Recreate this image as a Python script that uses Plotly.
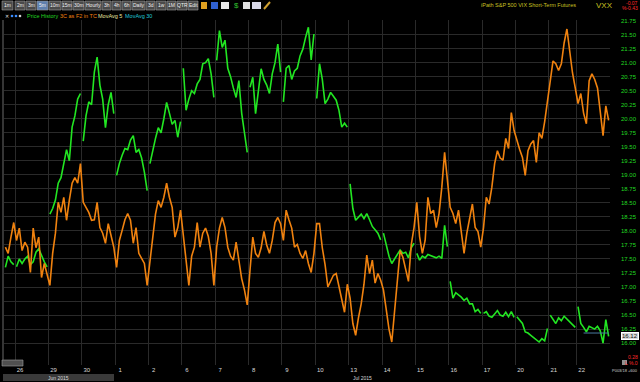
import plotly.graph_objects as go

# ---------------- data ----------------
day_labels = ["", "26", "29", "30", "1", "2", "6", "7", "8", "9", "10",
              "13", "14", "15", "16", "17", "20", "21", "22"]
month_labels = ["Jun 2015", "Jul 2015"]

# VXX price history (green), one list per session
price_days = [
    [17.35, 17.55, 17.45, 17.40],
    [17.36, 17.50, 17.42, 17.50, 17.55, 17.40, 17.45, 17.62, 17.68, 17.55, 17.45, 17.36],
    [18.30, 18.40, 18.55, 18.85, 18.95, 19.20, 19.45, 19.25, 19.85, 20.05, 20.35, 20.45],
    [19.60, 20.05, 20.30, 20.25, 20.83, 21.10, 20.60, 20.35, 19.84, 20.25, 20.47, 20.09],
    [18.99, 19.20, 19.35, 19.47, 19.45, 19.62, 19.70, 19.40, 19.45, 19.30, 19.05, 18.72],
    [19.20, 19.45, 19.65, 19.84, 19.75, 20.00, 20.29, 20.10, 19.90, 19.97, 19.67, 19.95],
    [20.90, 20.15, 20.35, 20.50, 20.45, 20.62, 20.70, 20.98, 21.00, 21.07, 20.80, 20.38],
    [21.04, 21.57, 21.27, 21.40, 20.90, 20.75, 20.55, 20.38, 20.68, 20.10, 19.75, 19.40],
    [20.56, 20.74, 20.09, 20.45, 20.89, 20.70, 20.60, 20.45, 20.80, 21.00, 21.33, 20.83],
    [20.30, 20.90, 20.95, 20.70, 20.85, 20.90, 21.12, 21.24, 21.45, 21.63, 21.05, 21.51],
    [20.36, 20.98, 20.70, 20.27, 20.35, 20.47, 20.40, 20.33, 20.15, 19.85, 19.92, 19.85],
    [18.84, 18.40, 18.19, 18.25, 18.30, 18.22, 18.31, 18.20, 18.08, 18.02, 17.96, 17.84],
    [17.96, 17.73, 17.55, 17.42, 17.50, 17.60, 17.66, 17.60, 17.62, 17.52, 17.70, 17.78],
    [17.60, 17.48, 17.55, 17.52, 17.58, 17.56, 17.55, 17.52, 17.55, 17.51, 18.10, 17.72],
    [17.10, 16.80, 16.90, 16.86, 16.82, 16.76, 16.80, 16.70, 16.70, 16.56, 16.60, 16.53],
    [16.53, 16.56, 16.48, 16.46, 16.52, 16.58, 16.50, 16.48, 16.55, 16.47, 16.56, 16.46],
    [16.47, 16.40, 16.35, 16.20, 16.18, 16.14, 16.10, 16.05, 16.02, 16.08, 16.04, 16.26],
    [16.50, 16.42, 16.35, 16.45, 16.40, 16.48, 16.43, 16.38, 16.34, 16.28],
    [16.65, 16.35, 16.28, 16.20, 16.30, 16.28, 16.25, 16.30, 16.22, 16.00, 16.42, 16.12],
]

# 3C as F2 in TC (orange), same sessions, plotted on its own hidden scale
c3_days = [
    [17.71, 17.60, 17.89, 18.15],
    [17.83, 18.05, 17.65, 17.80, 17.71, 17.26, 18.05, 17.70, 17.89, 17.17, 17.42, 17.24],
    [17.03, 17.60, 17.96, 18.51, 18.33, 18.60, 18.19, 18.55, 18.85, 18.95, 18.85, 19.20],
    [18.51, 18.42, 18.33, 18.19, 18.20, 18.51, 18.06, 17.96, 17.78, 18.13, 17.90, 17.71],
    [17.35, 17.83, 18.01, 18.20, 18.31, 18.19, 17.78, 18.06, 17.60, 17.50, 17.42, 17.03],
    [17.48, 17.96, 18.30, 18.54, 18.42, 18.60, 18.85, 18.60, 18.42, 17.89, 18.06, 18.37],
    [17.90, 17.40, 17.03, 17.55, 17.71, 18.15, 17.71, 17.96, 18.05, 17.90, 17.60, 17.03],
    [17.71, 18.05, 18.24, 18.06, 17.71, 17.55, 17.48, 17.80, 17.45, 17.15, 16.95, 16.68],
    [17.30, 17.89, 17.60, 17.53, 17.70, 17.99, 17.75, 17.60, 17.83, 18.15, 18.24, 18.13],
    [17.83, 18.37, 18.20, 18.05, 17.71, 17.76, 17.60, 17.51, 17.65, 17.42, 17.26, 17.60],
    [18.13, 18.13, 17.70, 17.40, 17.00, 17.10, 17.21, 17.24, 17.00, 16.75, 16.55, 17.05],
    [16.80, 16.35, 16.14, 16.45, 16.70, 17.05, 17.57, 17.24, 17.48, 17.07, 17.24, 17.12],
    [16.95, 16.60, 16.25, 16.02, 16.53, 17.17, 17.65, 17.53, 17.30, 17.10, 17.75, 18.06],
    [18.51, 17.90, 17.60, 17.83, 18.60, 18.31, 18.37, 18.06, 18.31, 18.78, 19.40, 18.95],
    [18.42, 18.31, 18.13, 18.37, 17.95, 17.60, 17.96, 18.19, 18.48, 18.06, 17.99, 17.71],
    [18.06, 18.60, 18.48, 18.78, 19.20, 19.43, 19.30, 19.26, 19.65, 19.47, 20.11, 19.79],
    [19.61, 19.45, 19.31, 18.99, 19.43, 19.55, 19.61, 19.22, 19.75, 19.65, 19.95, 20.32],
    [20.70, 21.03, 20.98, 20.86, 20.98, 21.35, 21.60, 21.21, 20.82, 20.55],
    [20.27, 20.45, 20.10, 19.91, 20.68, 20.80, 20.70, 20.55, 20.15, 19.70, 20.23, 19.97],
]

price_ticks = [16.00, 16.25, 16.50, 16.75, 17.00, 17.25, 17.50, 17.75, 18.00, 18.25,
               18.50, 18.75, 19.00, 19.25, 19.50, 19.75, 20.00, 20.25, 20.50, 20.75,
               21.00, 21.25, 21.50, 21.75]
last_price = 16.12

# ---------------- build traces ----------------
gx, gy, ox, oy = [], [], [], []
day_start = []
idx = 0
for pd_, cd_ in zip(price_days, c3_days):
    day_start.append(idx - 0.5)
    for k, v in enumerate(pd_):
        gx.append(idx + k); gy.append(v)
    gx.append(None); gy.append(None)
    for k, v in enumerate(cd_):
        ox.append(idx + k); oy.append(v)
    idx += len(pd_)
n_bars = idx

GREEN = "#22e622"
ORANGE = "#f0820f"

fig = go.Figure()
fig.add_trace(go.Scatter(x=ox, y=oy, mode="lines", yaxis="y2",
                         line=dict(color=ORANGE, width=1.6), name="3C as F2 in TC",
                         hoverinfo="skip"))
fig.add_trace(go.Scatter(x=gx, y=gy, mode="lines", connectgaps=False,
                         line=dict(color=GREEN, width=1.6), name="Price History",
                         hoverinfo="skip"))

YR = [15.61, 21.76]
W, H = 640, 382
L, R, T, B = 4, 30, 20, 17
PW, PH = W - L - R, H - T - B


def px(x):
    return (x - L) / PW


def py(y):
    return (H - B - y) / PH


shapes, ann = [], []
FONT = "Liberation Sans"

# toolbar buttons
buttons = [("1m", 2, 13), ("2m", 15, 25), ("3m", 26, 36), ("5m", 37, 48), ("10m", 49, 61),
           ("15m", 62, 72), ("30m", 73, 84), ("Hourly", 85, 101), ("3h", 102, 111),
           ("4h", 112, 121), ("6h", 122, 131), ("Daily", 132, 145), ("3d", 146, 155),
           ("1w", 156, 166), ("1M", 167, 176), ("QTR", 177, 187), ("Edit", 188, 198)]
for lab, x0, x1 in buttons:
    fill = "#5f7fae" if lab == "5m" else "#4a4a4a"
    shapes.append(dict(type="rect", xref="paper", yref="paper", x0=px(x0), x1=px(x1),
                       y0=py(10), y1=py(1), fillcolor=fill, line=dict(color="#9a9a9a", width=0.6)))
    ann.append(dict(text=lab, xref="paper", yref="paper", x=px((x0 + x1) / 2), y=py(5.5),
                    showarrow=False, font=dict(family=FONT, size=5, color="#f0f0f0"),
                    xanchor="center", yanchor="middle"))
# toolbar icons
icons = [(201, 207, "#e0a020"), (211, 218, "#3060d0"), (221, 229, "#e8e8e8"),
         (243, 250, "#e0e0e0"), (252, 261, "#d8d8e8")]
for x0, x1, c in icons:
    shapes.append(dict(type="rect", xref="paper", yref="paper", x0=px(x0), x1=px(x1),
                       y0=py(9), y1=py(2), fillcolor=c, line=dict(width=0)))
ann.append(dict(text="$", xref="paper", yref="paper", x=px(236), y=py(5.5), showarrow=False,
                font=dict(family=FONT, size=8, color="#30c030"), xanchor="center", yanchor="middle"))
shapes.append(dict(type="line", xref="paper", yref="paper", x0=px(264), x1=px(270),
                   y0=py(9), y1=py(2), line=dict(color="#d0a030", width=2)))

# legend row
ann.append(dict(text="✕", xref="paper", yref="paper", x=px(3), y=py(16), showarrow=False,
                font=dict(family="DejaVu Sans", size=5, color="#e0e0e0"), xanchor="left", yanchor="middle"))
for cx, c in [(12, "#3a8cff"), (16, "#3a8cff"), (20, "#cfcfcf")]:
    shapes.append(dict(type="circle", xref="paper", yref="paper", x0=px(cx - 1.3), x1=px(cx + 1.3),
                       y0=py(17.3), y1=py(14.7), fillcolor=c, line=dict(width=0)))
legend_items = [("Price History", 25, "#22d822"), ("3C as F2 in TC", 58, ORANGE),
                ("MovAvg 5", 96, "#e6e6a0"), ("MovAvg 30", 123, "#20c8d8")]
for t, x0, c in legend_items:
    ann.append(dict(text=t, xref="paper", yref="paper", x=px(x0), y=py(16), showarrow=False,
                    font=dict(family=FONT, size=5.5, color=c), xanchor="left", yanchor="middle"))

# header right
ann.append(dict(text="iPath S&P 500 VIX Short-Term Futures", xref="paper", yref="paper",
                x=px(578), y=py(5), showarrow=False, xanchor="right", yanchor="middle",
                font=dict(family=FONT, size=5.5, color="#c8c020")))
ann.append(dict(text="VXX", xref="paper", yref="paper", x=px(594), y=py(5), showarrow=False,
                xanchor="left", yanchor="middle", font=dict(family=FONT, size=8, color="#c8c020")))
ann.append(dict(text="-0.07", xref="paper", yref="paper", x=px(640), y=py(3), showarrow=False,
                xanchor="right", yanchor="middle", font=dict(family=FONT, size=5, color="#ff2a2a")))
ann.append(dict(text="%-0.43", xref="paper", yref="paper", x=px(640), y=py(8.5), showarrow=False,
                xanchor="right", yanchor="middle", font=dict(family=FONT, size=5, color="#ff2a2a")))

# last price line and box
shapes.append(dict(type="line", xref="x", yref="y", x0=n_bars - 10, x1=n_bars - 1,
                   y0=16.18, y1=16.18, line=dict(color="#4a7aa0", width=1)))
ann.append(dict(text=f"{last_price:.2f}", xref="paper", yref="y", x=px(621), y=last_price,
                showarrow=False, xanchor="left", yanchor="middle", bgcolor="#d8d8d8",
                bordercolor="#ffffff", borderwidth=1, borderpad=0,
                font=dict(family=FONT, size=6, color="#101010")))

# bottom right bits
ann.append(dict(text="0.28", xref="paper", yref="paper", x=px(640), y=py(357), showarrow=False,
                xanchor="right", yanchor="middle", font=dict(family=FONT, size=5, color="#ff2a2a")))
shapes.append(dict(type="rect", xref="paper", yref="paper", x0=px(622), x1=px(627),
                   y0=py(365), y1=py(360), fillcolor="#909090", line=dict(width=0)))
ann.append(dict(text="L %.0", xref="paper", yref="paper", x=px(640), y=py(362.5), showarrow=False,
                xanchor="right", yanchor="middle", font=dict(family=FONT, size=5, color="#ff2a2a")))
ann.append(dict(text="P003/18 +600", xref="paper", yref="paper", x=px(610), y=py(370), showarrow=False,
                xanchor="left", yanchor="middle", font=dict(family=FONT, size=4, color="#d0d0d0")))

# month band
shapes.append(dict(type="rect", xref="paper", yref="paper", x0=px(3), x1=px(114),
                   y0=py(381), y1=py(374), fillcolor="#3a3a3a", line=dict(width=0)))
ann.append(dict(text=month_labels[0], xref="paper", yref="paper", x=px(58), y=py(377.5), showarrow=False,
                xanchor="center", yanchor="middle", font=dict(family=FONT, size=5, color="#d8d8d8")))
ann.append(dict(text=month_labels[1], xref="paper", yref="paper", x=px(362), y=py(377.5), showarrow=False,
                xanchor="center", yanchor="middle", font=dict(family=FONT, size=5, color="#d8d8d8")))

# scroll widget and left edge line
shapes.append(dict(type="rect", xref="paper", yref="paper", x0=px(2), x1=px(23),
                   y0=py(366), y1=py(360), fillcolor="#505050", line=dict(color="#a0a0a0", width=0.6)))
shapes.append(dict(type="line", xref="paper", yref="paper", x0=px(3), x1=px(3),
                   y0=py(360), y1=py(20), line=dict(color="#6a6a6a", width=1)))

fig.update_layout(
    width=W, height=H,
    paper_bgcolor="#000000", plot_bgcolor="#000000",
    margin=dict(l=L, r=R, t=T, b=B, autoexpand=False),
    showlegend=False,
    shapes=shapes, annotations=ann,
    xaxis=dict(range=[-0.5, n_bars - 0.5], tickmode="array", tickvals=day_start,
               ticktext=day_labels, showgrid=True, gridcolor="#2a2a2a", gridwidth=1,
               zeroline=False, ticks="", ticklabelshift=5, ticklabelstandoff=0, automargin=False,
               tickfont=dict(family=FONT, size=6, color="#d8d8d8"), showline=False),
    yaxis=dict(range=YR, side="right", tickmode="array", tickvals=price_ticks,
               ticktext=[f"{v:.2f}" for v in price_ticks], showgrid=True, gridcolor="#2a2a2a",
               zeroline=False, ticks="", ticklabelstandoff=10, automargin=False,
               tickfont=dict(family=FONT, size=6, color="#22d822")),
    yaxis2=dict(range=YR, overlaying="y", visible=False),
)

fig.write_html("out.html", config={"displayModeBar": False},
               post_script="document.body.style.margin='0';document.body.style.background='#000';")
